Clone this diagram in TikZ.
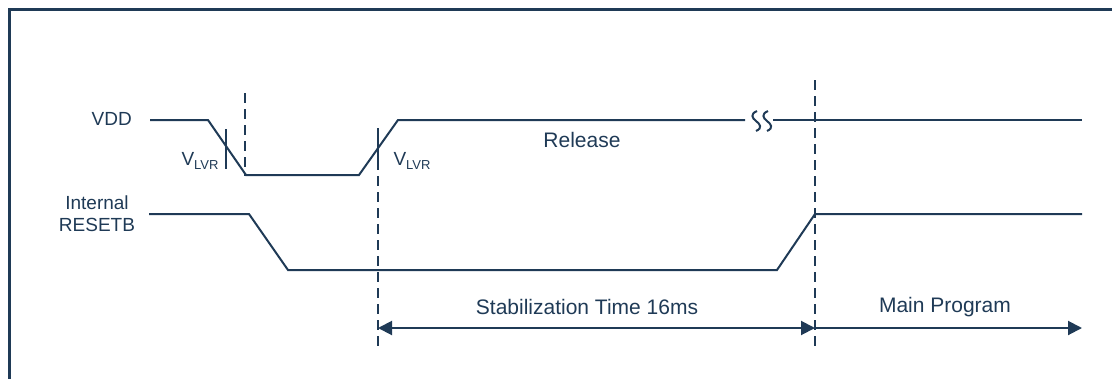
\documentclass[tikz,border=0pt]{standalone}
\usepackage{fontspec}
\setmainfont{Liberation Sans}
\usetikzlibrary{arrows.meta}
\definecolor{ink}{HTML}{1F3A56}
\begin{document}
\begin{tikzpicture}[x=1pt,y=-1pt,
  sig/.style={draw=ink,line width=2pt,line join=miter},
  guide/.style={draw=ink,line width=1.6pt,dash pattern=on 10pt off 6pt},
  tick/.style={draw=ink,line width=1.6pt},
  span/.style={draw=ink,line width=2pt,{Triangle[length=14pt,width=14pt]}-{Triangle[length=14pt,width=14pt]}},
  fwd/.style={draw=ink,line width=2pt,-{Triangle[length=14pt,width=14pt]}},
  lbl/.style={text=ink,font=\fontsize{21}{24}\selectfont,inner sep=0pt},
  side/.style={text=ink,font=\fontsize{19}{22}\selectfont,inner sep=0pt},
  every node/.style={inner sep=0pt}]
\useasboundingbox (0,0) rectangle (1112,378);
% frame
\draw[ink,line width=3pt] (9,380) -- (9,9) -- (1114,9);
% VDD waveform
\coordinate (v0) at (150,120);
\coordinate (v1) at (208,120);
\coordinate (v2) at (246,175);
\coordinate (v3) at (359,175);
\coordinate (v4) at (398,120);
\coordinate (v5) at (745,120);
\coordinate (v6) at (773,120);
\coordinate (v7) at (1082,120);
\draw[sig] (v0) -- (v1) -- (v2) -- (v3) -- (v4) -- (v5);
\draw[sig] (v6) -- (v7);
% break symbol
\draw[ink,line width=2pt] (757,111) .. controls (750,114) and (752,118) .. (756,121) .. controls (760,124) and (763,128) .. (756,131);
\draw[ink,line width=2pt] (768,111) .. controls (761,114) and (763,118) .. (767,121) .. controls (771,124) and (774,128) .. (767,131);
% RESETB waveform
\coordinate (r0) at (149,214);
\coordinate (r1) at (249,214);
\coordinate (r2) at (288,270);
\coordinate (r3) at (777,270);
\coordinate (r4) at (815,214);
\coordinate (r5) at (1082,214);
\draw[sig] (r0) -- (r1) -- (r2) -- (r3) -- (r4) -- (r5);
% guides
\coordinate (g1t) at (245,93);
\coordinate (g1b) at (245,176);
\coordinate (g2t) at (378,128);
\coordinate (g2b) at (378,350);
\coordinate (g3t) at (815,80);
\coordinate (g3b) at (815,350);
\draw[guide] (g1t) -- (g1b);
\draw[guide] (g2t) -- (g2b);
\draw[guide] (g3t) -- (g3b);
% ticks
\coordinate (t1t) at (226,129);
\coordinate (t1b) at (226,169);
\coordinate (t2t) at (378,128);
\coordinate (t2b) at (378,162);
\draw[tick] (t1t) -- (t1b);
\draw[tick] (t2t) -- (t2b);
% labels
\node[side,anchor=east] (vdd) at (132,119) {VDD};
\node[side,align=center] (rst) at (97,214) {Internal\\RESETB};
\node[lbl] (rel) at (582,140) {Release};
\node[lbl,font=\fontsize{19}{22}\selectfont] (vl1) at (200,161) {V\raisebox{-0.35ex}{\fontsize{13}{14}\selectfont LVR}};
\node[lbl,font=\fontsize{19}{22}\selectfont] (vl2) at (412,161) {V\raisebox{-0.35ex}{\fontsize{13}{14}\selectfont LVR}};
% arrows
\coordinate (a1) at (378,328);
\coordinate (a2) at (815,328);
\coordinate (a3) at (1082,328);
\draw[span] (a1) -- (a2);
\draw[fwd] (a2) -- (a3);
\node[lbl] (stab) at (587,307) {Stabilization Time 16ms};
\node[lbl] (mainp) at (945,307) {Main Program};
\end{tikzpicture}
\end{document}
